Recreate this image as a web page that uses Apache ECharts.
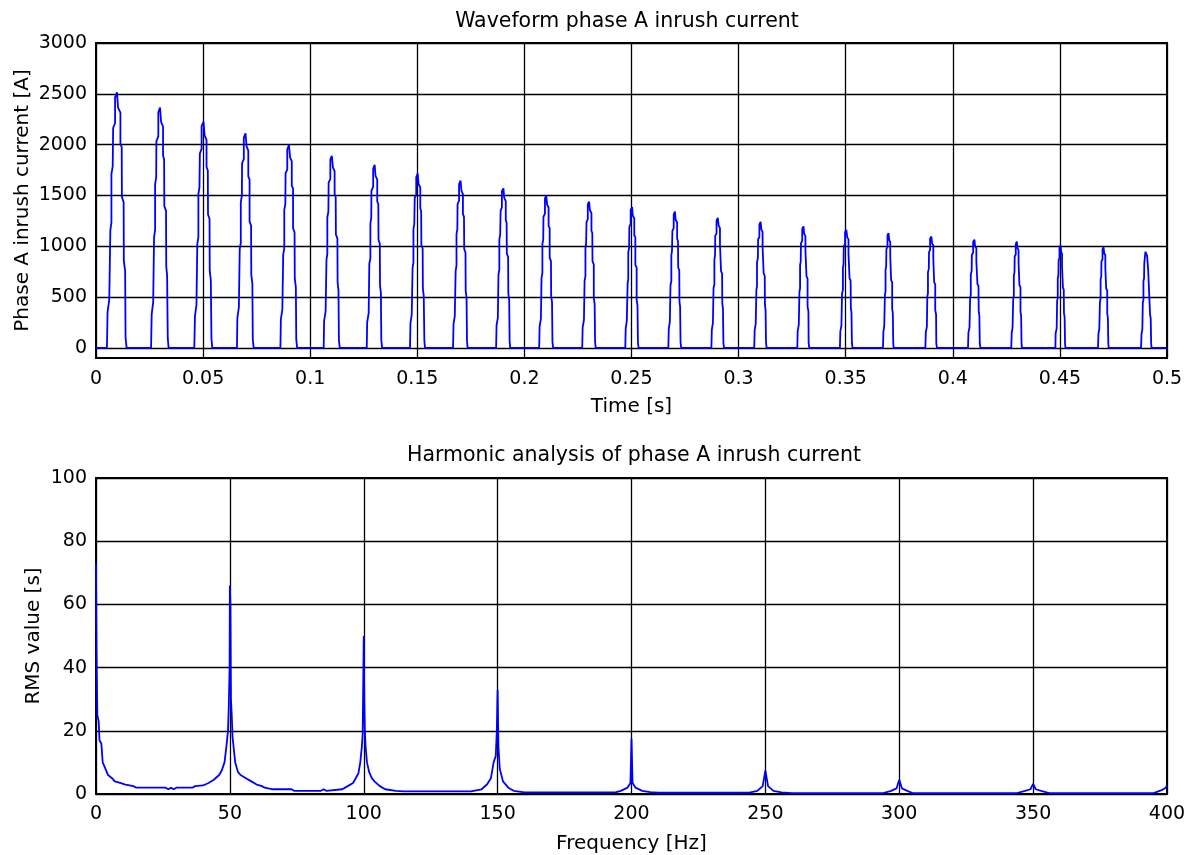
<!DOCTYPE html>
<html>
<head>
<meta charset="utf-8">
<script src="https://cdn.jsdelivr.net/npm/echarts@6/dist/echarts.min.js"></script>
<style>
html,body{margin:0;padding:0;background:#fff;}
#chart{width:1190px;height:855px;}
</style>
</head>
<body>
<div id="chart"></div>
<script>
// ---- Data ----
const topTitle = 'Waveform phase A inrush current';
const bottomTitle = 'Harmonic analysis of phase A inrush current';

const timeTicks = [0, 0.05, 0.1, 0.15, 0.2, 0.25, 0.3, 0.35, 0.4, 0.45, 0.5];
const currentTicks = [0, 500, 1000, 1500, 2000, 2500, 3000];
const freqTicks = [0, 50, 100, 150, 200, 250, 300, 350, 400];
const rmsTicks = [0, 20, 40, 60, 80, 100];

// inrush current pulses: time in ms, current in A
const pulseTimesMs = [
  [5.1,5.4,6.2,6.7,7.2,7.2,7.8,8.0,8.9,8.9,9.8,10.3,10.3,11.4,11.4,12.0,12.1,12.9,13.0,13.6,13.8,14.3],
  [25.7,26.0,26.7,27.1,27.6,27.6,28.1,28.2,29.1,29.1,29.9,30.4,30.4,31.3,31.3,31.8,31.9,32.7,32.8,33.2,33.5,33.9],
  [45.9,46.2,46.9,47.3,47.8,47.8,48.3,48.5,49.3,49.3,50.2,50.7,50.7,51.6,51.6,52.2,52.3,53.0,53.1,53.6,53.9,54.3],
  [65.8,66.0,66.7,67.1,67.6,67.6,68.1,68.2,69.0,69.0,69.8,70.3,70.3,71.1,71.1,71.7,71.7,72.4,72.5,73.0,73.2,73.6],
  [86.1,86.3,87.0,87.4,87.9,87.9,88.4,88.5,89.3,89.3,90.1,90.6,90.6,91.4,91.4,92.0,92.0,92.7,92.8,93.3,93.5,93.9],
  [106.3,106.5,107.2,107.6,108.0,108.0,108.5,108.6,109.4,109.4,110.1,110.6,110.6,111.4,111.4,111.9,112.0,112.7,112.8,113.2,113.4,113.8],
  [126.4,126.6,127.3,127.6,128.1,128.1,128.5,128.6,129.4,129.4,130.1,130.5,130.5,131.3,131.3,131.8,131.9,132.5,132.6,133.0,133.2,133.6],
  [146.6,146.8,147.4,147.8,148.2,148.2,148.6,148.8,149.5,149.5,150.2,150.6,150.6,151.4,151.4,151.8,151.9,152.5,152.6,153.0,153.3,153.6],
  [166.7,166.9,167.5,167.9,168.3,168.3,168.7,168.8,169.5,169.5,170.2,170.6,170.6,171.3,171.3,171.8,171.9,172.5,172.6,173.0,173.2,173.5],
  [186.8,187.0,187.6,187.9,188.3,188.3,188.7,188.9,189.5,189.5,190.2,190.6,190.6,191.3,191.3,191.7,191.8,192.4,192.5,192.9,193.1,193.4],
  [206.9,207.1,207.7,208.0,208.4,208.4,208.8,208.9,209.6,209.6,210.2,210.6,210.6,211.3,211.3,211.8,211.8,212.4,212.5,212.9,213.1,213.4],
  [227.0,227.2,227.8,228.1,228.5,228.5,228.8,229.0,229.6,229.6,230.2,230.6,230.6,231.3,231.3,231.7,231.8,232.4,232.4,232.8,233.0,233.3],
  [247.1,247.3,247.8,248.2,248.5,248.5,248.9,249.0,249.6,249.6,250.3,250.6,250.6,251.3,251.3,251.8,251.8,252.4,252.4,252.8,253.0,253.3],
  [267.2,267.4,267.9,268.2,268.6,268.6,268.9,269.1,269.7,269.7,270.3,270.6,270.6,271.3,271.3,271.7,271.8,272.3,272.4,272.7,272.9,273.2],
  [287.3,287.5,288.0,288.3,288.7,288.7,289.0,289.1,289.7,289.7,290.3,290.7,290.7,291.3,291.3,291.7,291.8,292.3,292.4,292.7,292.9,293.2],
  [307.3,307.5,308.0,308.3,308.6,308.6,309.0,309.1,309.7,309.7,310.3,310.6,310.6,311.2,311.2,311.6,311.7,312.2,312.3,312.6,312.8,313.1],
  [327.4,327.6,328.1,328.4,328.7,328.7,329.0,329.1,329.7,329.7,330.3,330.6,330.6,331.2,331.2,331.6,331.7,332.2,332.2,332.6,332.7,333.0],
  [347.3,347.5,348.0,348.3,348.7,348.7,349.0,349.1,349.7,349.7,350.3,350.7,350.7,351.3,351.3,351.7,351.8,352.3,352.4,352.7,352.9,353.2],
  [367.4,367.6,368.0,368.3,368.6,368.6,368.9,369.0,369.5,369.5,370.0,370.3,370.3,370.8,370.8,371.2,371.2,371.7,371.7,372.0,372.2,372.4],
  [387.2,387.4,387.9,388.1,388.4,388.4,388.8,388.9,389.4,389.4,390.0,390.3,390.3,390.9,390.9,391.3,391.3,391.8,391.8,392.2,392.3,392.6],
  [407.1,407.3,407.8,408.1,408.4,408.4,408.8,408.9,409.5,409.5,410.1,410.4,410.4,411.0,411.0,411.4,411.5,412.0,412.1,412.4,412.6,412.9],
  [427.3,427.5,427.9,428.2,428.5,428.5,428.8,428.9,429.4,429.4,429.9,430.2,430.2,430.7,430.7,431.1,431.1,431.6,431.6,431.9,432.1,432.3],
  [447.9,448.0,448.5,448.7,449.0,449.0,449.3,449.4,449.8,449.8,450.3,450.6,450.6,451.0,451.0,451.4,451.4,451.8,451.9,452.2,452.4,452.6],
  [467.8,468.0,468.4,468.7,469.0,469.0,469.3,469.4,469.9,469.9,470.4,470.7,470.7,471.2,471.2,471.6,471.6,472.1,472.1,472.4,472.6,472.8],
  [487.9,488.1,488.5,488.7,489.0,489.0,489.3,489.4,489.9,489.9,490.4,490.7,490.7,491.2,491.2,491.6,491.6,492.1,492.1,492.4,492.6,492.8]
];
const pulseCurrents = [
  [0,352,478,1157,1232,1710,1786,2163,2213,2465,2515,2502,2364,2314,2012,1974,1484,1434,855,755,101,0],
  [0,331,449,1088,1159,1608,1679,2034,2081,2318,2365,2353,2223,2176,1892,1857,1395,1348,804,710,95,0],
  [0,312,423,1024,1090,1513,1580,1914,1958,2181,2225,2214,2092,2047,1780,1747,1313,1268,757,668,89,0],
  [0,295,401,971,1034,1435,1498,1815,1857,2068,2110,2099,1983,1941,1688,1656,1245,1203,717,633,84,0],
  [0,279,379,918,978,1357,1416,1716,1756,1955,1995,1985,1875,1835,1596,1566,1177,1137,678,599,80,0],
  [0,265,359,869,926,1285,1342,1625,1663,1852,1890,1881,1777,1739,1512,1484,1115,1077,643,567,76,0],
  [0,252,342,828,882,1224,1278,1548,1584,1764,1800,1791,1692,1656,1440,1413,1062,1026,612,540,72,0],
  [0,240,326,789,840,1166,1218,1475,1509,1681,1715,1706,1612,1578,1372,1346,1012,978,583,515,69,0],
  [0,230,313,757,806,1119,1168,1415,1448,1612,1645,1637,1546,1513,1316,1291,971,938,559,494,66,0],
  [0,220,298,722,769,1068,1115,1350,1382,1539,1570,1562,1476,1444,1256,1232,926,895,534,471,63,0],
  [0,210,285,690,735,1020,1065,1290,1320,1470,1500,1493,1410,1380,1200,1178,885,855,510,450,60,0],
  [0,202,274,662,706,979,1022,1238,1267,1411,1440,1433,1354,1325,1152,1130,850,821,490,432,58,0],
  [0,194,263,637,679,942,983,1191,1219,1357,1385,1378,1302,1274,1108,1087,817,789,471,416,55,0],
  [0,188,255,616,657,911,951,1152,1179,1313,1340,1333,1260,1233,1072,1052,791,764,456,402,54,0],
  [0,179,243,589,627,870,909,1101,1126,1254,1280,1274,1203,1178,1024,1005,755,730,435,384,51,0],
  [0,174,236,570,608,843,880,1066,1091,1215,1240,1234,1166,1141,992,973,732,707,422,372,50,0],
  [0,167,227,550,586,813,848,1028,1052,1171,1195,1189,1123,1099,956,938,705,681,406,359,48,0],
  [0,162,220,534,568,789,824,998,1021,1137,1160,1154,1090,1067,928,911,684,661,394,348,46,0],
  [0,158,215,520,554,768,802,972,994,1107,1130,1124,1062,1040,904,887,667,644,384,339,45,0],
  [0,153,208,504,537,745,777,942,964,1073,1095,1090,1029,1007,876,860,646,624,372,329,44,0],
  [0,149,202,490,522,724,756,916,937,1044,1065,1060,1001,980,852,836,628,607,362,320,43,0],
  [0,146,199,481,512,711,742,899,920,1024,1045,1040,982,961,836,820,617,596,355,314,42,0],
  [0,141,191,462,492,683,714,864,884,985,1005,1000,945,925,804,789,593,573,342,302,40,0],
  [0,139,188,455,485,673,703,851,871,970,990,985,931,911,792,777,584,564,337,297,40,0],
  [0,135,183,444,473,656,685,830,849,946,965,960,907,888,772,758,569,550,328,290,39,0]
];

// harmonic spectrum: frequency in Hz, RMS value
const spectrumFreq = [0,0.2,0.5,1,1.3,2,2.5,3.5,4.5,6,7,9,11,14,15,25,25.5,26,27,28,29,30,36,37,40,42,44,46,47,48,48.7,49.3,49.6,49.9,50,50.2,50.4,50.7,51,51.5,52,53,54,56,58,60,62,63,66,72,72.5,73,74,83,83.5,84,85,86,92,94,96,97,98,98.7,99.3,99.6,100,100.2,100.4,100.7,101.2,102,103,104,106,108,112,115,140,144,146,147.5,148.5,149.3,149.7,150,150.3,150.8,152,154,156,160,194,196,198.5,199.6,200,200.4,201.5,204,207,210,244,247,249,250,251,253,256,260,294,297,299,300,301,303,305,344,347,349,350,351,353,356,395,398,399.5,400];
const spectrumRms = [73,45,25,23,17,16,10,8,6,5,4,3.5,3,2.5,2,2,1.5,2,1.5,2,1.5,2,2,2.5,2.7,3.5,4.5,6,7.5,10,15,20,28,40,66,60,30,25,18,14,10,7,6,5,4,3,2.5,2,1.5,1.5,1,1.5,1,1,1.5,1,1.5,1,1.5,2.5,3.5,5,6.5,10,15,19,50,30,20,15,10,7,5,4,2.5,1.5,1,0.8,0.8,1.5,3,5,10,12,20,33,15,8,4,2,1,0.5,0.5,1,2,3.5,17.5,3.5,2,1,0.6,0.4,0.4,1,2.5,7.5,2.5,1,0.5,0.3,0.3,1,1.8,4.5,1.8,1,0.3,0.3,1,1.5,3.2,1.5,1,0.3,0.3,1.2,2,2.8];

// ---- Build series data ----
const waveData = [[0, 0]];
pulseTimesMs.forEach((ts, i) => {
  ts.forEach((t, j) => waveData.push([t / 1000, pulseCurrents[i][j]]));
});
waveData.push([0.5, 0]);
const specData = spectrumFreq.map((f, i) => [f, spectrumRms[i]]);

// ---- Styles ----
const FONT = 'DejaVu Sans';
const black = '#000';
const labelStyle = {color: black, fontFamily: FONT, fontSize: 19};
const nameStyle = {color: black, fontFamily: FONT, fontSize: 20};
const splitStyle = {show: true, lineStyle: {color: black, width: 1.3, type: 'solid'}};
const axisLineStyle = {show: true, onZero: false, lineStyle: {color: black, width: 2}};
const tickStyle = {show: true, inside: true, length: 6, lineStyle: {color: black}};

const chart = echarts.init(document.getElementById('chart'), null, {renderer: 'canvas'});
chart.setOption({
  animation: false,
  backgroundColor: '#fff',
  title: [
    {text: topTitle, left: 622, top: 6, textAlign: 'center',
     textStyle: {color: black, fontFamily: FONT, fontSize: 20.5, fontWeight: 'normal'}},
    {text: bottomTitle, left: 629, top: 440, textAlign: 'center',
     textStyle: {color: black, fontFamily: FONT, fontSize: 20.5, fontWeight: 'normal'}}
  ],
  grid: [
    {left: 96, right: 23, top: 43, height: 315, containLabel: false, outerBoundsMode: 'none',
     show: true, borderColor: black, borderWidth: 2, backgroundColor: '#fff'},
    {left: 96, right: 23, top: 478, height: 316, containLabel: false, outerBoundsMode: 'none',
     show: true, borderColor: black, borderWidth: 2, backgroundColor: '#fff'}
  ],
  xAxis: [
    {gridIndex: 0, type: 'value', min: timeTicks[0], max: timeTicks[timeTicks.length - 1], interval: 0.05,
     axisLine: axisLineStyle, axisTick: tickStyle,
     axisLabel: Object.assign({margin: 12, formatter: v => String(+v.toFixed(2))}, labelStyle),
     splitLine: splitStyle,
     name: 'Time [s]', nameLocation: 'middle', nameGap: 39, nameMoveOverlap: false, nameTextStyle: nameStyle},
    {gridIndex: 1, type: 'value', min: freqTicks[0], max: freqTicks[freqTicks.length - 1], interval: 50,
     axisLine: axisLineStyle, axisTick: tickStyle,
     axisLabel: Object.assign({margin: 11, formatter: v => String(v)}, labelStyle),
     splitLine: splitStyle,
     name: 'Frequency [Hz]', nameLocation: 'middle', nameGap: 40, nameMoveOverlap: false, nameTextStyle: nameStyle}
  ],
  yAxis: [
    {gridIndex: 0, type: 'value', min: -100, max: 3000,
     axisLine: axisLineStyle,
     axisTick: Object.assign({customValues: currentTicks}, tickStyle),
     axisLabel: Object.assign({margin: 9, customValues: currentTicks, formatter: v => String(v)}, labelStyle),
     splitLine: splitStyle,
     name: 'Phase A inrush current [A]', nameLocation: 'middle', nameGap: 63, nameMoveOverlap: false, nameTextStyle: nameStyle},
    {gridIndex: 1, type: 'value', min: rmsTicks[0], max: rmsTicks[rmsTicks.length - 1], interval: 20,
     axisLine: axisLineStyle, axisTick: tickStyle,
     axisLabel: Object.assign({margin: 9, formatter: v => String(v)}, labelStyle),
     splitLine: splitStyle,
     name: 'RMS value [s]', nameLocation: 'middle', nameGap: 52, nameMoveOverlap: false, nameTextStyle: nameStyle}
  ],
  series: [
    {type: 'line', xAxisIndex: 0, yAxisIndex: 0, data: waveData, showSymbol: false, symbol: 'none',
     lineStyle: {color: '#0000ff', width: 1.8}, clip: true, z: 5},
    {type: 'line', xAxisIndex: 1, yAxisIndex: 1, data: specData, showSymbol: false, symbol: 'none',
     lineStyle: {color: '#0000ff', width: 1.8}, clip: true, z: 5}
  ]
});
</script>
</body>
</html>
